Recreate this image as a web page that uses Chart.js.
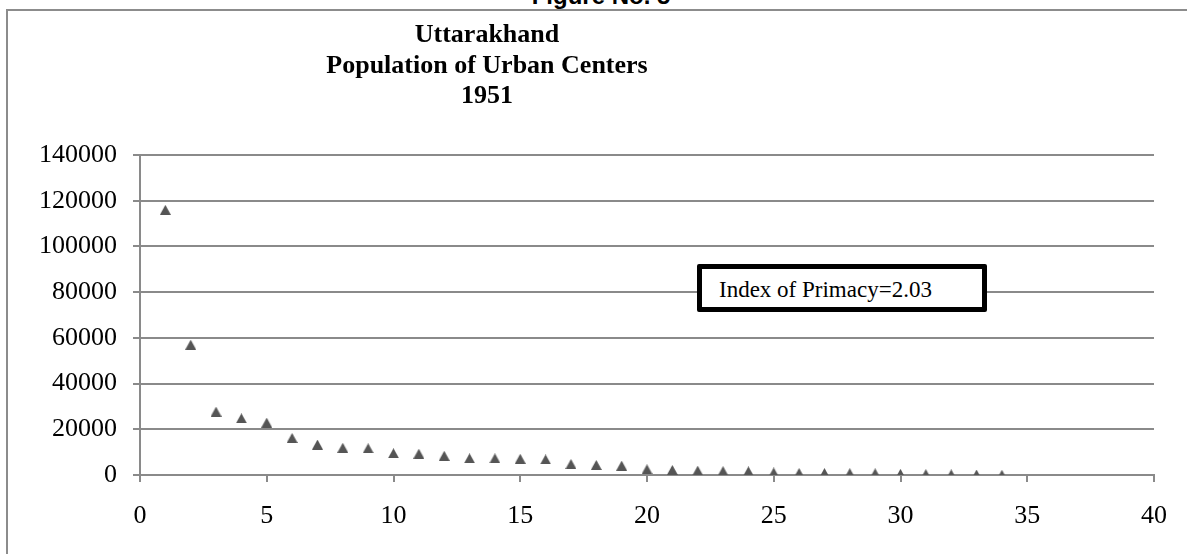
<!DOCTYPE html>
<html>
<head>
<meta charset="utf-8">
<script src="https://cdn.jsdelivr.net/npm/chart.js@4.4.0/dist/chart.umd.min.js"></script>
<style>
  html, body { margin: 0; padding: 0; background: #fff; overflow: hidden; }
  #page { position: relative; width: 1187px; height: 554px; overflow: hidden; }
  #fig-no {
    position: absolute; left: 501px; width: 200px; top: -18px;
    text-align: center; font: bold 24px "Liberation Sans", Arial, sans-serif;
    line-height: 27px; color: #000; white-space: nowrap;
  }
  #frame {
    position: absolute; left: 6px; top: 9px; width: 1300px; height: 700px;
    border-top: 2px solid #8c8c8c; border-left: 2px solid #8c8c8c; background: #fff;
  }
  #chart { position: absolute; left: 0; top: 0; }
  #title {
    position: absolute; left: 237px; width: 500px; top: 19px;
    text-align: center; font: bold 26px "Liberation Serif", "Times New Roman", serif;
    line-height: 30.5px; color: #000;
  }
  #note {
    position: absolute; left: 697px; top: 264px; width: 290px; height: 48px;
    box-sizing: border-box; border: 5px solid #000; border-radius: 2px; background: #fff;
    padding: 4px 0 0 17px; font: 23px "Liberation Serif", "Times New Roman", serif;
    line-height: 34px; color: #000; white-space: nowrap;
  }
</style>
</head>
<body>
<div id="page">
  <div id="fig-no">Figure No. 5</div>
  <div id="frame"></div>
  <canvas id="chart" width="1187" height="554"></canvas>
  <div id="title">Uttarakhand<br>Population of Urban Centers<br>1951</div>
  <div id="note">Index of Primacy=2.03</div>
</div>
<script>
// Rank of each urban centre and its population (1951)
const cityRank = [1, 2, 3, 4, 5, 6, 7, 8, 9, 10, 11, 12, 13, 14, 15, 16, 17,
                  18, 19, 20, 21, 22, 23, 24, 25, 26, 27, 28, 29, 30, 31, 32, 33, 34];
const population = [116000, 57000, 27700, 24800, 22900, 16200, 13300, 11900, 11700, 9500,
                    9300, 8400, 7300, 7300, 7100, 6800, 4800, 4400, 4100, 2500,
                    2200, 1900, 1700, 1600, 1100, 900, 850, 800, 750, 500,
                    400, 300, 200, 100];

// Axis tick labels
const xTickValues = [0, 5, 10, 15, 20, 25, 30, 35, 40];
const yTickValues = [0, 20000, 40000, 60000, 80000, 100000, 120000, 140000];

const gridColor = '#8a8a8a';
const tickFont = { family: '"Liberation Serif", "Times New Roman", serif', size: 26 };

// Triangle marker like the spreadsheet one (centred on its box)
function makeTriangleMarker() {
    const c = document.createElement('canvas');
    c.width = 11;
    c.height = 10;
    const g = c.getContext('2d');
    g.fillStyle = '#555555';
    g.beginPath();
    g.moveTo(5.5, 0);
    g.lineTo(11, 10);
    g.lineTo(0, 10);
    g.closePath();
    g.fill();
    return c;
}

function initChart() {
    const points = cityRank.map((r, i) => ({ x: r, y: population[i] }));
    const marker = makeTriangleMarker();

    new Chart(document.getElementById('chart'), {
        type: 'scatter',
        data: {
            datasets: [{
                label: 'Population',
                data: points,
                pointStyle: marker,
                pointRadius: 5,
                showLine: false
            }]
        },
        options: {
            responsive: false,
            animation: false,
            events: [],
            layout: { padding: { left: 20, top: 155, right: 33, bottom: 19 } },
            plugins: {
                legend: { display: false },
                tooltip: { enabled: false }
            },
            scales: {
                x: {
                    type: 'linear',
                    min: 0,
                    max: 40,
                    afterBuildTicks: (scale) => { scale.ticks = xTickValues.map(v => ({ value: v })); },
                    afterFit: (scale) => { scale.height = 60; },
                    grid: { drawOnChartArea: false, drawTicks: true, tickLength: 7, color: gridColor, lineWidth: 2 },
                    border: { display: true, color: gridColor, width: 2 },
                    ticks: { color: '#000', font: tickFont, padding: 19, maxRotation: 0 }
                },
                y: {
                    type: 'linear',
                    min: 0,
                    max: 140000,
                    afterBuildTicks: (scale) => { scale.ticks = yTickValues.map(v => ({ value: v })); },
                    afterFit: (scale) => { scale.width = 120; },
                    grid: { drawTicks: true, tickLength: 7, color: gridColor, lineWidth: 2 },
                    border: { display: true, color: gridColor, width: 2 },
                    ticks: {
                        color: '#000',
                        font: tickFont,
                        padding: 16,
                        callback: (v) => String(v)
                    }
                }
            }
        }
    });
}

document.addEventListener('DOMContentLoaded', initChart);
</script>
</body>
</html>
